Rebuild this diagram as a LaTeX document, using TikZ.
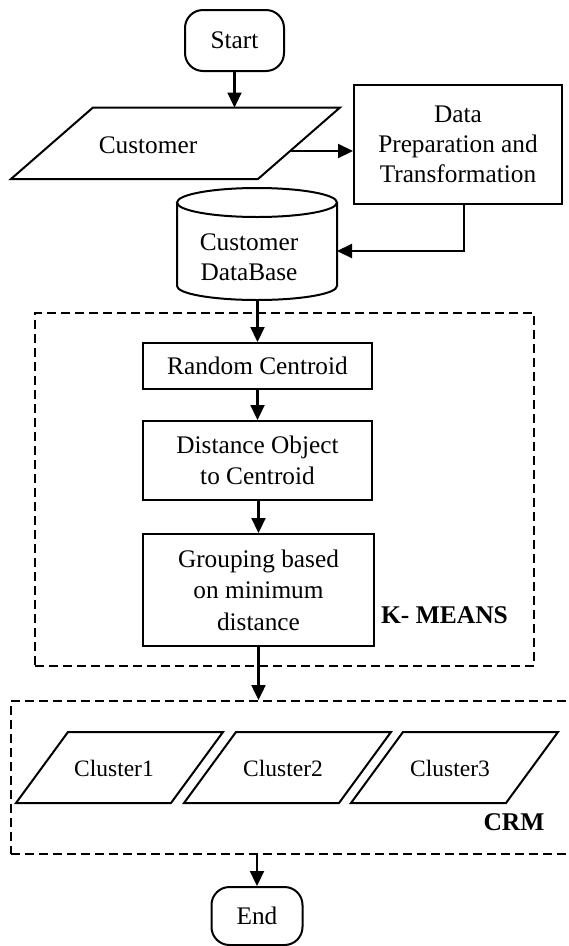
\documentclass[tikz,border=0pt]{standalone}
\usepackage{fontspec}
\setmainfont{Liberation Serif}
\usetikzlibrary{arrows.meta}
\begin{document}
\begin{tikzpicture}[x=1pt,y=1pt,
  every node/.style={font=\fontsize{25.3}{30}\selectfont, align=center, inner sep=0pt},
  outline/.style={line width=2pt, line join=miter},
  box/.style={draw, outline},
  terminal/.style={draw, outline, rounded corners=18pt},
  arr/.style={line width=2.2pt, -{Triangle[length=15pt,width=14pt]}},
  frame/.style={draw, line width=1.9pt, dash pattern=on 9pt off 5pt},
  grouplabel/.style={font=\fontsize{25.5}{30}\selectfont\bfseries},
  clustertext/.style={font=\fontsize{23.5}{28}\selectfont}
]
\useasboundingbox (0,0) rectangle (569,-946);

% --- top part: input and preparation ---
\node[terminal, minimum width=99pt, minimum height=61pt] (start) at (234.5,-40.5) {Start};

\draw[outline] (11,-179) -- (93,-107.5) -- (340,-107.5) -- (258,-179) -- cycle;
\node (cust) at (148,-145) {Customer};
\coordinate (custTop) at (234.5,-107.5);
\coordinate (custR) at (290,-151);

\node[box, minimum width=208pt, minimum height=119pt] (dp) at (458,-144.5)
  {Data\\Preparation and\\Transformation};
\coordinate (dpS) at (464,-204);

% customer database cylinder
\draw[outline] (177,-202.5) -- (177,-286)
  arc[start angle=180, end angle=360, x radius=80pt, y radius=14pt]
  -- (337,-202.5);
\draw[outline] (257,-202.5) ellipse [x radius=80pt, y radius=14.5pt];
\node (db) at (249,-257.5) {Customer\\DataBase};
\coordinate (dbE) at (337,-251);
\coordinate (dbS) at (257.5,-300);

% --- K-means block ---
\node[frame, minimum width=499pt, minimum height=353pt] (km) at (284.5,-489.5) {};
\node[box, minimum width=229pt, minimum height=46pt] (rc) at (257.5,-366) {Random Centroid};
\node[box, minimum width=229pt, minimum height=79pt, font=\fontsize{25.3}{31}\selectfont] (dist) at (257.5,-460.5)
  {Distance Object\\to Centroid};
\node[box, minimum width=231pt, minimum height=112pt, font=\fontsize{25.3}{31.5}\selectfont] (grp) at (258.5,-590)
  {Grouping based\\on minimum\\distance};
\node[grouplabel] (kmlabel) at (444.5,-615) {K- MEANS};

% --- CRM block ---
\node[frame, minimum width=579pt, minimum height=153pt] (crm) at (300.5,-777.5) {};
\foreach \bx in {16,184,351}{
  \draw[outline] (\bx,-803) -- (\bx+52,-732) -- (\bx+207,-732) -- (\bx+155,-803) -- cycle;
}
\node[clustertext] (c1) at (114,-768) {Cluster1};
\node[clustertext] (c2) at (283,-768) {Cluster2};
\node[clustertext] (c3) at (450,-768) {Cluster3};
\node[grouplabel] (crmlabel) at (514,-822) {CRM};

\node[terminal, minimum width=91pt, minimum height=58pt] (end) at (257,-916) {End};

% --- connectors ---
\draw[arr] (start.south) -- (custTop);
\draw[arr] (custR) -- (custR -| dp.west);
\draw[arr] (dpS) |- (dbE);
\draw[arr] (dbS) -- (rc.north);
\draw[arr] (rc.south) -- (dist.north);
\draw[arr] (dist.south) -- (grp.south |- dist.south) -- (grp.north);
\draw[arr] (grp.south) -- (grp.south |- crm.north);
\draw[arr] (end.north |- crm.south) -- (end.north);
\end{tikzpicture}
\end{document}
